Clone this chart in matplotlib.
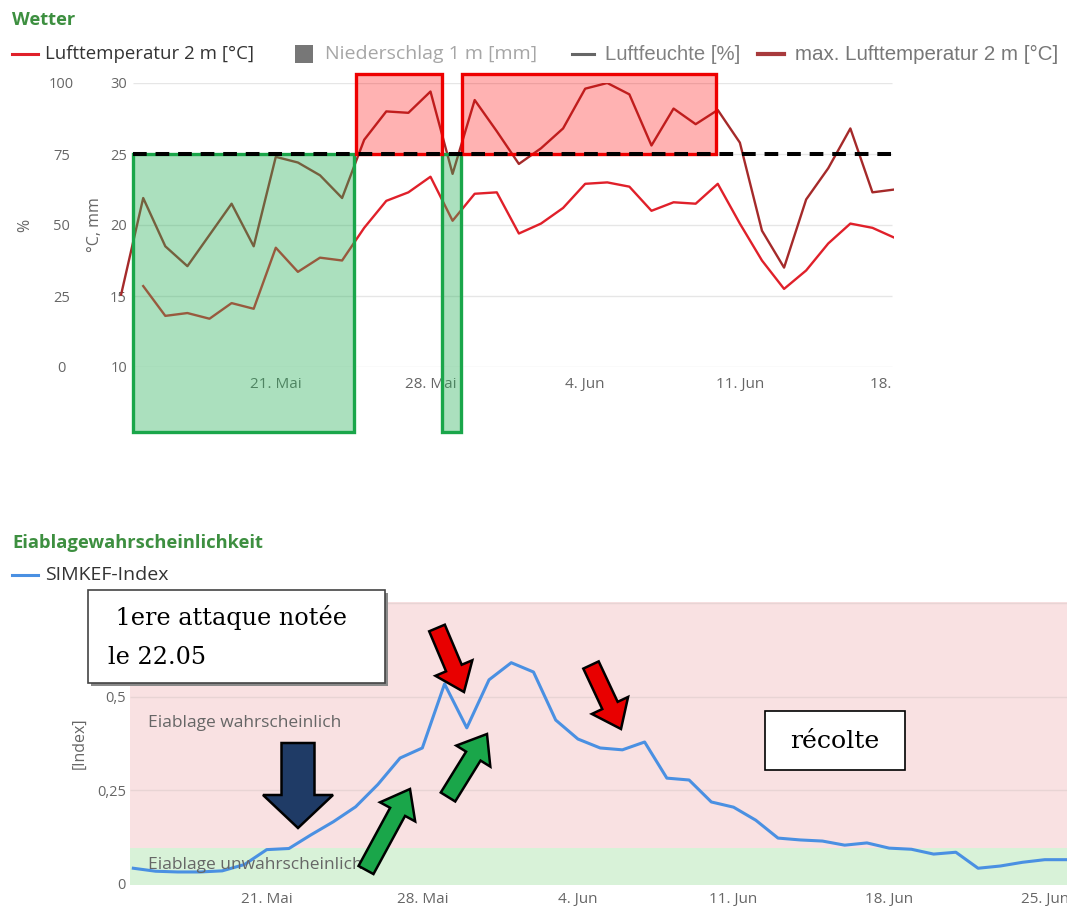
import numpy as np
import matplotlib
matplotlib.use("Agg")
import matplotlib.pyplot as plt
from matplotlib.colors import to_rgba
from matplotlib.patches import Rectangle, FancyArrow

plt.rcParams["font.family"] = ["Open Sans", "DejaVu Sans"]

W, H = 1067, 910

# Wetter: daily values, day 0 = 21. Mai
wetter_days = np.arange(-7, 29)
temp_max = [15.1, 21.9, 18.5, 17.1, 19.3, 21.5, 18.5, 24.8, 24.4, 23.5,
            21.9, 26.0, 28.0, 27.9, 29.4, 23.6, 28.8, 26.6, 24.3, 25.4,
            26.8, 29.6, 30.0, 29.2, 25.6, 28.2, 27.1, 28.1, 25.8, 19.6,
            17.0, 21.8, 24.0, 26.8, 22.3, 22.5]
temp_mean = [np.nan, 15.7, 13.6, 13.8, 13.4, 14.5, 14.1, 18.4, 16.7, 17.7,
             17.5, 19.8, 21.7, 22.3, 23.4, 20.3, 22.2, 22.3, 19.4, 20.1,
             21.2, 22.9, 23.0, 22.7, 21.0, 21.6, 21.5, 22.9, 20.1, 17.5,
             15.5, 16.8, 18.7, 20.1, 19.8, 19.1]
wetter_ticks = [0, 7, 14, 21, 28]
wetter_labels = ["21. Mai", "28. Mai", "4. Jun", "11. Jun", "18. Jun"]
temp_ticks = [10, 15, 20, 25, 30]
humid_ticks = [0, 25, 50, 75, 100]
threshold = 25

# SIMKEF index, day 0 = 21. Mai
simkef_days = np.arange(-6, 37)
simkef_index = [0.040, 0.032, 0.030, 0.030, 0.033, 0.050, 0.090, 0.093, 0.130, 0.165,
                0.205, 0.265, 0.336, 0.363, 0.535, 0.417, 0.546, 0.592, 0.567, 0.438,
                0.387, 0.363, 0.358, 0.379, 0.282, 0.277, 0.218, 0.204, 0.169, 0.121,
                0.116, 0.113, 0.102, 0.108, 0.094, 0.091, 0.078, 0.083, 0.040, 0.046,
                0.056, 0.063, 0.063]
simkef_ticks = [0, 7, 14, 21, 28, 35]
simkef_labels = ["21. Mai", "28. Mai", "4. Jun", "11. Jun", "18. Jun", "25. Jun"]
index_ticks = [0, 0.25, 0.5]
index_labels = ["0", "0,25", "0,5"]
low_limit = 0.095

RED = "#e0202a"
DARKRED = "#a52a2a"
BLUE = "#4a90e2"
TITLE_GREEN = "#3d8f40"
TICK = "#666666"

fig = plt.figure(figsize=(W / 100, H / 100), dpi=100)


def axes_px(left, top, right, bottom):
    return [left / W, 1 - bottom / H, (right - left) / W, (bottom - top) / H]


# ---------------- Wetter ----------------
ax = fig.add_axes(axes_px(120, 83, 895, 367))
ax.set_xlim(-7.05, 28.02)
ax.set_ylim(10, 30)
for s in ax.spines.values():
    s.set_visible(False)
ax.hlines(temp_ticks, -6.47, 27.9, color="#e6e6e6", lw=1, zorder=0)
ax.plot(wetter_days, temp_mean, color=RED, lw=1.7, zorder=2)
ax.plot(wetter_days, temp_max, color=DARKRED, lw=1.7, zorder=2)

ax.set_xticks(wetter_ticks)
ax.set_xticklabels(wetter_labels)
ax.set_yticks(temp_ticks)
ax.tick_params(axis="x", length=0, pad=7, labelsize=11, labelcolor=TICK)
ax.tick_params(axis="y", length=0, pad=-5, labelsize=10.5, labelcolor=TICK)
ax.set_ylabel("°C, mm", fontsize=11.5, color=TICK)
ax.yaxis.set_label_coords(-0.022, 0.5)

axh = ax.twinx()
axh.set_ylim(0, 100)
axh.set_yticks(humid_ticks)
axh.yaxis.tick_left()
axh.yaxis.set_label_position("left")
for s in axh.spines.values():
    s.set_visible(False)
axh.tick_params(axis="y", length=0, pad=42, labelsize=10.5, labelcolor=TICK)
for lbl in axh.get_yticklabels():
    lbl.set_horizontalalignment("center")
axh.set_ylabel("%", fontsize=11.5, color=TICK)
axh.yaxis.set_label_coords(-0.112, 0.5)

# hand-drawn highlight boxes
green_fc = to_rgba("#2db35d", 0.4)
red_fc = to_rgba("#ff0000", 0.3)
for x0, x1 in [(-6.47, 3.53), (7.51, 8.37)]:
    ax.add_patch(Rectangle((x0, 5.4), x1 - x0, threshold - 5.4, fc=green_fc,
                           ec="#1aa64a", lw=2.4, zorder=3, clip_on=False))
for x0, x1 in [(3.62, 7.51), (8.42, 19.9)]:
    ax.add_patch(Rectangle((x0, threshold), x1 - x0, 30.65 - threshold, fc=red_fc,
                           ec="#ee0000", lw=2.4, zorder=3, clip_on=False))
ax.hlines(threshold, -6.47, 27.9, color="black", lw=2.9, linestyles=(0, (3.4, 2.2)),
          zorder=4)

# ---------------- SIMKEF ----------------
bx = fig.add_axes(axes_px(130, 602, W, 885))
bx.set_xlim(-6.15, 36.0)
bx.set_ylim(-0.005, 0.755)
for s in bx.spines.values():
    s.set_visible(False)
bx.axhspan(-0.005, low_limit, color="#d8f2d8", lw=0, zorder=0)
bx.axhspan(low_limit, 0.755, color="#f9e1e2", lw=0, zorder=0)
bx.hlines([0.25, 0.5, 0.752], -6.15, 36.0, color="#e8d4d4", lw=1, zorder=1)
bx.plot(simkef_days, simkef_index, color=BLUE, lw=2.2, zorder=2)
bx.text(-5.35, 0.43, "Eiablage wahrscheinlich", fontsize=12.5, color="#666666",
        va="center", zorder=3)
bx.text(-5.35, 0.049, "Eiablage unwahrscheinlich", fontsize=12.5, color="#666666",
        va="center", zorder=3)
bx.set_xticks(simkef_ticks)
bx.set_xticklabels(simkef_labels)
bx.set_yticks(index_ticks)
bx.set_yticklabels(index_labels)
bx.tick_params(axis="x", length=0, pad=5, labelsize=11, labelcolor=TICK)
bx.tick_params(axis="y", length=0, pad=3, labelsize=10.5, labelcolor=TICK)
bx.set_ylabel("[Index]", fontsize=11.5, color=TICK)
bx.yaxis.set_label_coords(-0.045, 0.5)

# ---------------- titles, legends, notes (pixel overlay) ----------------
ov = fig.add_axes([0, 0, 1, 1], zorder=10)
ov.set_xlim(0, W)
ov.set_ylim(H, 0)
ov.axis("off")
ov.patch.set_alpha(0)

# right edge of the weather chart is cut off in the screenshot
ov.add_patch(Rectangle((894, 68), W - 894, 340, fc="white", ec="none"))

ov.text(12, 20, "Wetter", fontsize=13.2, fontweight="bold", color=TITLE_GREEN, va="center")
ov.plot([12, 38], [54, 54], color=RED, lw=2.2)
ov.text(45, 54, "Lufttemperatur 2 m [°C]", fontsize=13.4, color="#333333", va="center")
ov.add_patch(Rectangle((295, 45), 18, 18, fc="#777777", ec="none"))
ov.text(325, 54, "Niederschlag 1 m [mm]", fontsize=14, color="#a6a6a6", va="center")
ov.plot([572, 594], [54, 54], color="#666666", lw=2.2)
ov.text(605, 54, "Luftfeuchte [%]", fontsize=14.6, color="#808080", va="center",
        family="Liberation Sans")
ov.plot([758, 784], [54, 54], color="#a83a3c", lw=3)
ov.text(795, 54, "max. Lufttemperatur 2 m [°C]", fontsize=14.8, color="#777777", va="center",
        family="Liberation Sans")

ov.text(12, 543, "Eiablagewahrscheinlichkeit", fontsize=13.2, fontweight="bold",
        color=TITLE_GREEN, va="center")
ov.plot([12, 38], [575, 575], color=BLUE, lw=2.2)
ov.text(45, 575, "SIMKEF-Index", fontsize=14, color="#333333", va="center")

# note boxes
ov.add_patch(Rectangle((91, 593), 297, 93, fc="#8a8a8a", ec="none"))
ov.add_patch(Rectangle((88, 590), 297, 93, fc="white", ec="#444444", lw=1.2))
ov.text(108, 637, " 1ere attaque notée\nle 22.05", fontsize=17.2, family="DejaVu Serif",
        va="center", ha="left", linespacing=1.85, color="black")
ov.add_patch(Rectangle((765, 711), 140, 59, fc="white", ec="black", lw=1.2))
ov.text(835, 741, "récolte", fontsize=18.2, family="DejaVu Serif", va="center", ha="center")


def arrow(tail, tip, color, width=17, head_width=40, head_length=26):
    ov.add_patch(FancyArrow(tail[0], tail[1], tip[0] - tail[0], tip[1] - tail[1],
                            width=width, head_width=head_width, head_length=head_length,
                            length_includes_head=True, fc=color, ec="black", lw=1.8))


arrow((298, 743), (298, 828), "#1f3b66", width=33, head_width=70, head_length=33)
arrow((437, 628), (464, 692), "#e80000")
arrow((591, 665), (621, 729), "#e80000")
arrow((366, 870), (410, 789), "#1aa64a")
arrow((448, 797), (487, 734), "#1aa64a")

fig.savefig("out.png", dpi=100)
